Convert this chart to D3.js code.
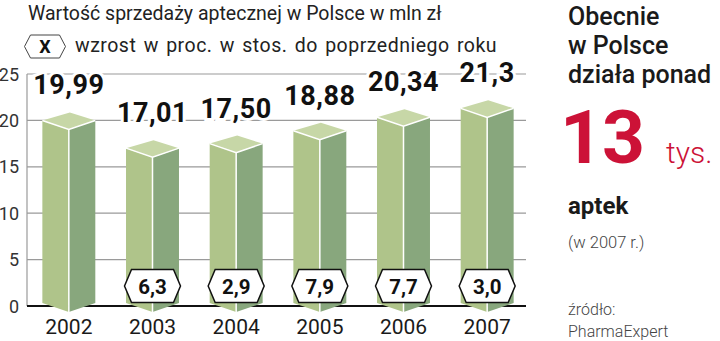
<!DOCTYPE html>
<html><head><meta charset="utf-8">
<script src="https://cdn.jsdelivr.net/npm/d3@7"></script>
<style>
html,body{margin:0;padding:0;background:#fff;}
svg{display:block;font-family:Roboto,"Noto Sans",sans-serif;}
</style></head>
<body>
<svg id="c" width="720" height="341"></svg>
<script>
const years = ["2002","2003","2004","2005","2006","2007"];
const sales = [19.99, 17.01, 17.50, 18.88, 20.34, 21.3];
const salesLabels = ["19,99","17,01","17,50","18,88","20,34","21,3"];
const growthLabels = [null, "6,3", "2,9", "7,9", "7,7", "3,0"];
const yTicks = [0, 5, 10, 15, 20, 25];

const svg = d3.select("#c");
const x = d3.scaleBand().domain(years).range([27, 529]).paddingInner(0.367).paddingOuter(0.1835);
const y = d3.scaleLinear().domain([0, 25]).range([306, 74]);

// gridlines
svg.append("g").selectAll("line").data(yTicks.filter(d => d > 0)).join("line")
  .attr("x1", 27).attr("x2", 526).attr("y1", d => y(d)).attr("y2", d => y(d))
  .attr("stroke", "#9a9a9a").attr("stroke-width", 1.2);
svg.append("line").attr("x1", 27).attr("x2", 27).attr("y1", y(25)).attr("y2", y(0))
  .attr("stroke", "#9a9a9a").attr("stroke-width", 1.2);

// baseline (behind bars)
svg.append("line").attr("x1", 27).attr("x2", 526).attr("y1", y(0)).attr("y2", y(0))
  .attr("stroke", "#111").attr("stroke-width", 2);

// y tick labels
svg.append("g").selectAll("text").data(yTicks).join("text")
  .attr("x", 19).attr("y", d => y(d) + 6.5).attr("text-anchor", "end")
  .attr("font-size", 18).attr("fill", "#333").text(d => d);

// bars
const dTop = 9, dBack = 8;
const bars = svg.append("g").selectAll("g").data(years).join("g");
bars.each(function(yr, i) {
  const g = d3.select(this);
  const l = x(yr), r = x(yr) + x.bandwidth(), c = l + x.bandwidth() / 2;
  const yt = y(sales[i]), yb = y(0) - 3;
  g.append("path").attr("d", `M${l},${yt}L${c},${yt + dTop}L${c},${yb + dTop}L${l},${yb}Z`)
    .attr("fill", "#afc48a");
  g.append("path").attr("d", `M${c},${yt + dTop}L${r},${yt}L${r},${yb}L${c},${yb + dTop}Z`)
    .attr("fill", "#88a77d");
  g.append("path").attr("d", `M${l},${yt}L${c + 1},${yt - dBack}L${r},${yt}L${c},${yt + dTop}Z`)
    .attr("fill", "#c7d7a7");
  g.append("path").attr("d", `M${l},${yt}L${c},${yt + dTop}L${r},${yt}M${c},${yt + dTop}L${c},${yb + dTop}`)
    .attr("fill", "none").attr("stroke", "#fff").attr("stroke-width", 1.5);
});

// value labels
svg.append("g").selectAll("text").data(years).join("text")
  .attr("x", d => x(d) + x.bandwidth() / 2).attr("y", (d, i) => y(sales[i]) - 26)
  .attr("text-anchor", "middle").attr("font-size", 27).attr("font-weight", 700)
  .attr("fill", "#111").attr("stroke", "#fff").attr("stroke-width", 6)
  .attr("paint-order", "stroke").attr("letter-spacing", 0.5)
  .text((d, i) => salesLabels[i]);

// hexagon helper
function hex(cx, cy, w, h, p) {
  const hw = w / 2, hh = h / 2;
  return `M${cx - hw},${cy}L${cx - hw + p},${cy - hh}L${cx + hw - p},${cy - hh}L${cx + hw},${cy}L${cx + hw - p},${cy + hh}L${cx - hw + p},${cy + hh}Z`;
}

// growth hexagons
const hexG = svg.append("g").selectAll("g")
  .data(years.map((yr, i) => ({yr, lab: growthLabels[i]})).filter(d => d.lab))
  .join("g");
hexG.append("path").attr("d", d => hex(x(d.yr) + x.bandwidth() / 2, 286, 56, 33, 7))
  .attr("fill", "#fff").attr("stroke", "#111").attr("stroke-width", 1.5);
hexG.append("text").attr("x", d => x(d.yr) + x.bandwidth() / 2).attr("y", 293.5)
  .attr("text-anchor", "middle").attr("font-size", 20.5).attr("font-weight", 700)
  .attr("fill", "#111").text(d => d.lab);

// year labels
svg.append("g").selectAll("text").data(years).join("text")
  .attr("x", d => x(d) + x.bandwidth() / 2).attr("y", 334)
  .attr("text-anchor", "middle").attr("font-size", 21).attr("fill", "#1a1a1a").text(d => d);

// title + legend
svg.append("text").attr("x", 28).attr("y", 20).attr("font-size", 19.5).attr("fill", "#222")
  .text("Wartość sprzedaży aptecznej w Polsce w mln zł");
svg.append("path").attr("d", hex(45, 46.5, 41, 23, 6)).attr("fill", "#fff")
  .attr("stroke", "#444").attr("stroke-width", 1);
svg.append("text").attr("x", 45).attr("y", 53).attr("text-anchor", "middle")
  .attr("font-size", 18).attr("font-weight", 700).attr("fill", "#111").text("X");
svg.append("text").attr("x", 75).attr("y", 52).attr("font-size", 19.5).attr("fill", "#222")
  .attr("letter-spacing", 0.5).attr("word-spacing", 2)
  .text("wzrost w proc. w stos. do poprzedniego roku");

// right panel
const rp = svg.append("g").attr("fill", "#1a1a1a");
["Obecnie", "w Polsce", "działa ponad"].forEach((t, i) => {
  rp.append("text").attr("x", 568).attr("y", 25 + i * 29).attr("font-size", 25)
    .attr("font-weight", 500).text(t);
});
svg.append("text").attr("x", 560).attr("y", 163).attr("font-size", 75).attr("font-weight", 700)
  .attr("fill", "#cc1237").attr("letter-spacing", -1).text("13");
svg.append("text").attr("x", 666).attr("y", 163).attr("font-size", 30).attr("font-weight", 300)
  .attr("fill", "#cc1237").text("tys.");
svg.append("text").attr("x", 568).attr("y", 214).attr("font-size", 24).attr("font-weight", 700)
  .attr("fill", "#1a1a1a").text("aptek");
svg.append("text").attr("x", 568).attr("y", 248).attr("font-size", 16.5).attr("font-weight", 300)
  .attr("fill", "#444").text("(w 2007 r.)");
svg.append("text").attr("x", 568).attr("y", 315).attr("font-size", 16).attr("font-weight", 300)
  .attr("fill", "#444").text("źródło:");
svg.append("text").attr("x", 568).attr("y", 337).attr("font-size", 16).attr("font-weight", 300)
  .attr("fill", "#444").text("PharmaExpert");
</script>
</body></html>
